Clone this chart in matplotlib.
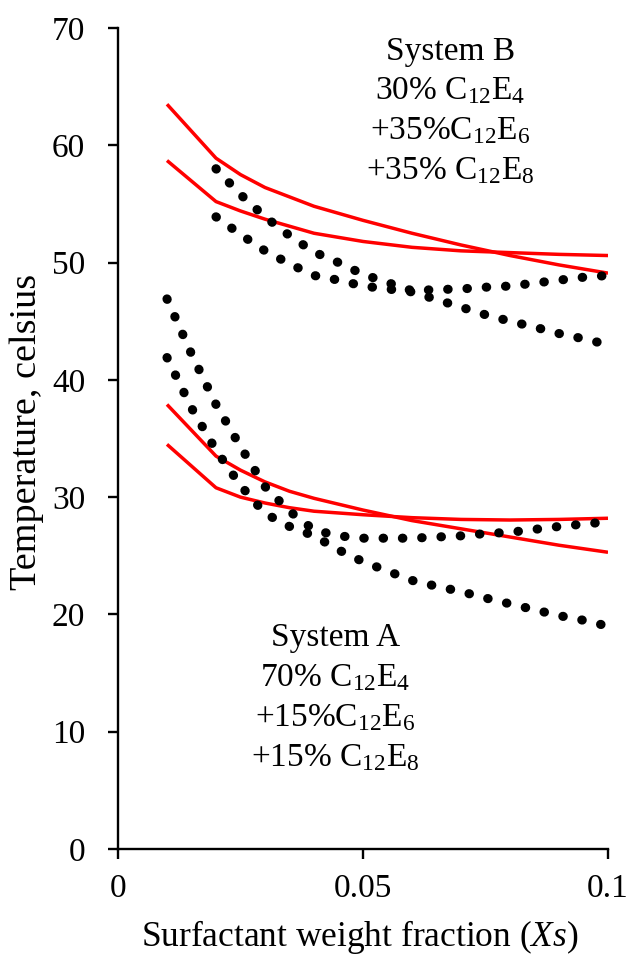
import matplotlib
matplotlib.use("Agg")
import matplotlib.pyplot as plt

plt.rcParams["font.family"] = ["Liberation Serif", "DejaVu Serif"]
plt.rcParams["mathtext.fontset"] = "custom"
plt.rcParams["mathtext.rm"] = "Liberation Serif"
plt.rcParams["mathtext.it"] = "Liberation Serif:italic"

# Model curves (red), evaluated at these weight fractions
x_model = [0.01, 0.02, 0.025, 0.03, 0.035, 0.04, 0.05, 0.06, 0.07, 0.08, 0.09, 0.1]
b_model_upper = [63.5, 58.9, 57.5, 56.4, 55.6, 54.8, 53.6, 52.5, 51.5, 50.6, 49.8, 49.1]
b_model_lower = [58.7, 55.2, 54.4, 53.7, 53.1, 52.5, 51.8, 51.3, 51.0, 50.85, 50.7, 50.6]
a_model_upper = [37.9, 33.5, 32.3, 31.3, 30.5, 29.9, 28.9, 28.0, 27.3, 26.6, 25.9, 25.3]
a_model_lower = [34.5, 30.8, 30.0, 29.5, 29.1, 28.8, 28.5, 28.25, 28.1, 28.05, 28.1, 28.2]

# Experimental boundaries (black dotted)
x_exp_b = [0.02, 0.025, 0.03, 0.035, 0.04, 0.045, 0.05, 0.055, 0.06,
           0.065, 0.07, 0.075, 0.08, 0.085, 0.09, 0.095, 0.1]
b_exp_upper = [58.0, 55.8, 53.9, 52.3, 50.9, 50.0, 49.0, 48.3, 47.6,
               47.7, 47.75, 47.9, 48.0, 48.25, 48.5, 48.75, 48.9]
b_exp_lower = [53.9, 52.4, 51.0, 49.9, 48.9, 48.5, 48.0, 47.75, 47.5,
               46.85, 46.2, 45.55, 45.0, 44.5, 43.95, 43.5, 43.0]

x_exp_a = [0.01, 0.015, 0.02, 0.025, 0.03, 0.035, 0.04, 0.045, 0.05, 0.055,
           0.06, 0.065, 0.07, 0.075, 0.08, 0.085, 0.09, 0.095, 0.1]
a_exp_upper = [46.9, 42.2, 37.9, 34.3, 30.9, 28.8, 27.2, 26.7, 26.5, 26.5,
               26.5, 26.6, 26.7, 26.9, 27.0, 27.25, 27.5, 27.7, 27.9]
a_exp_lower = [41.9, 37.6, 34.0, 31.0, 28.6, 27.5, 26.7, 25.5, 24.5, 23.7,
               22.9, 22.4, 21.95, 21.4, 20.9, 20.4, 19.9, 19.5, 19.0]

x_ticks = [0, 0.05, 0.1]
x_tick_labels = ["0", "0.05", "0.1"]
y_ticks = [0, 10, 20, 30, 40, 50, 60, 70]

label_b = ["System B", r"30% C$_{12}$E$_4$", r"+35%C$_{12}$E$_6$", r"+35% C$_{12}$E$_8$"]
label_a = ["System A", r"70% C$_{12}$E$_4$", r"+15%C$_{12}$E$_6$", r"+15% C$_{12}$E$_8$"]

fig = plt.figure(figsize=(6.28, 9.55), dpi=100)
ax = fig.add_axes([118 / 628, 1 - 849 / 955, 490 / 628, 821 / 955])

red_kw = dict(color="#FF0000", lw=2.5, solid_capstyle="butt",
              solid_joinstyle="round", zorder=2)
for y in (b_model_upper, b_model_lower):
    ax.plot(x_model, y, **red_kw)
for y in (a_model_upper, a_model_lower):
    ax.plot(x_model, y, **red_kw)

dot_lw = 6.6
dot_kw = dict(color="black", lw=dot_lw, linestyle=(0, (0.05, 13.9 / dot_lw - 0.05)),
              dash_capstyle="round", zorder=3)
for y in (b_exp_upper, b_exp_lower):
    ax.plot(x_exp_b, y, **dot_kw)
for y in (a_exp_upper, a_exp_lower):
    ax.plot(x_exp_a, y, **dot_kw)

ax.set_xlim(0, 0.1)
ax.set_ylim(0, 70)
ax.set_xticks(x_ticks)
ax.set_xticklabels(x_tick_labels)
ax.set_yticks(y_ticks)
for s in ("top", "right"):
    ax.spines[s].set_visible(False)
for s in ("left", "bottom"):
    ax.spines[s].set_linewidth(1.7)
ax.tick_params(axis="both", direction="out", length=7.5, width=1.7, labelsize=24)
ax.tick_params(axis="x", pad=10)
ax.tick_params(axis="y", pad=16)

fig.text(360 / 628, 1 - 946 / 955, r"Surfactant weight fraction ($\mathit{Xs}$)",
         fontsize=25.5, ha="center", va="baseline")
fig.text(27 / 628, 1 - 432 / 955, "Temperature, celsius", fontsize=27.5,
         rotation=90, ha="center", va="center")

for i, t in enumerate(label_b):
    ax.text(0.0678, 67.3 - i * 3.41, t, fontsize=24, ha="center", va="baseline")
for i, t in enumerate(label_a):
    ax.text(0.0443, 17.3 - i * 3.41, t, fontsize=24, ha="center", va="baseline")

fig.savefig("out.png", dpi=100)
